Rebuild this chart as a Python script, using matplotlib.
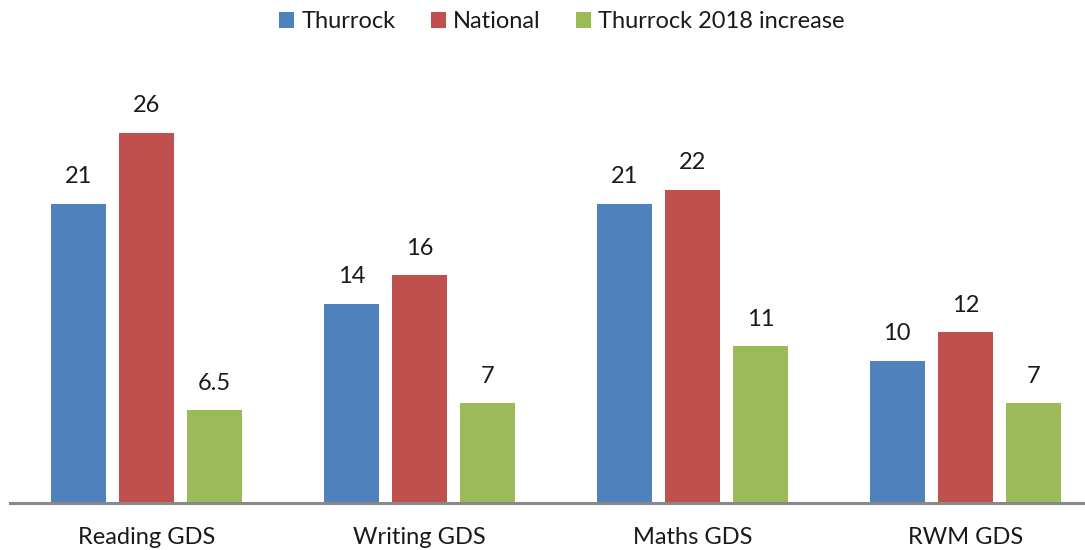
import matplotlib.pyplot as plt
import numpy as np

categories = ["Reading GDS", "Writing GDS", "Maths GDS", "RWM GDS"]
series_names = ["Thurrock", "National", "Thurrock 2018 increase"]
thurrock = [21, 14, 21, 10]
national = [26, 16, 22, 12]
increase = [6.5, 7, 11, 7]
value_labels = [["21", "14", "21", "10"], ["26", "16", "22", "12"], ["6.5", "7", "11", "7"]]
colors = ["#4F81BD", "#C0504D", "#9BBB59"]

plt.rcParams["font.family"] = ["Lato", "DejaVu Sans"]

W, H = 1085, 550
fig = plt.figure(figsize=(W / 100, H / 100), dpi=100)
ax = fig.add_axes([10 / W, (H - 503) / H, (W - 10) / W, 503 / H])

x = np.arange(len(categories))
offsets = [-0.25, 0, 0.25]
for vals, labs, off, col, name in zip([thurrock, national, increase], value_labels, offsets, colors, series_names):
    bars = ax.bar(x + off, vals, width=0.2, color=col, label=name)
    for b, lab in zip(bars, labs):
        ax.text(b.get_x() + b.get_width() / 2, b.get_height() + 1.9, lab,
                ha="center", va="center", fontsize=17, color="#1a1a1a")

ax.set_xlim(-0.5, (W - 10) / 273 - 0.5)
ax.set_ylim(0, 503 / 14.24)
ax.set_xticks(x)
ax.set_xticklabels(categories, fontsize=17, color="#1a1a1a")
ax.tick_params(axis="x", length=0, pad=17)
ax.set_yticks([])
for s in ["top", "right", "left"]:
    ax.spines[s].set_visible(False)
ax.spines["bottom"].set_color("#888888")
ax.spines["bottom"].set_linewidth(2.2)

fig.legend(loc="center", bbox_to_anchor=(562 / W, 1 - 22 / H), ncol=3, frameon=False,
           fontsize=17, handlelength=0.64, handleheight=0.64, handletextpad=0.3,
           columnspacing=1.5, labelcolor="#1a1a1a")

plt.savefig("out.png", dpi=100)
